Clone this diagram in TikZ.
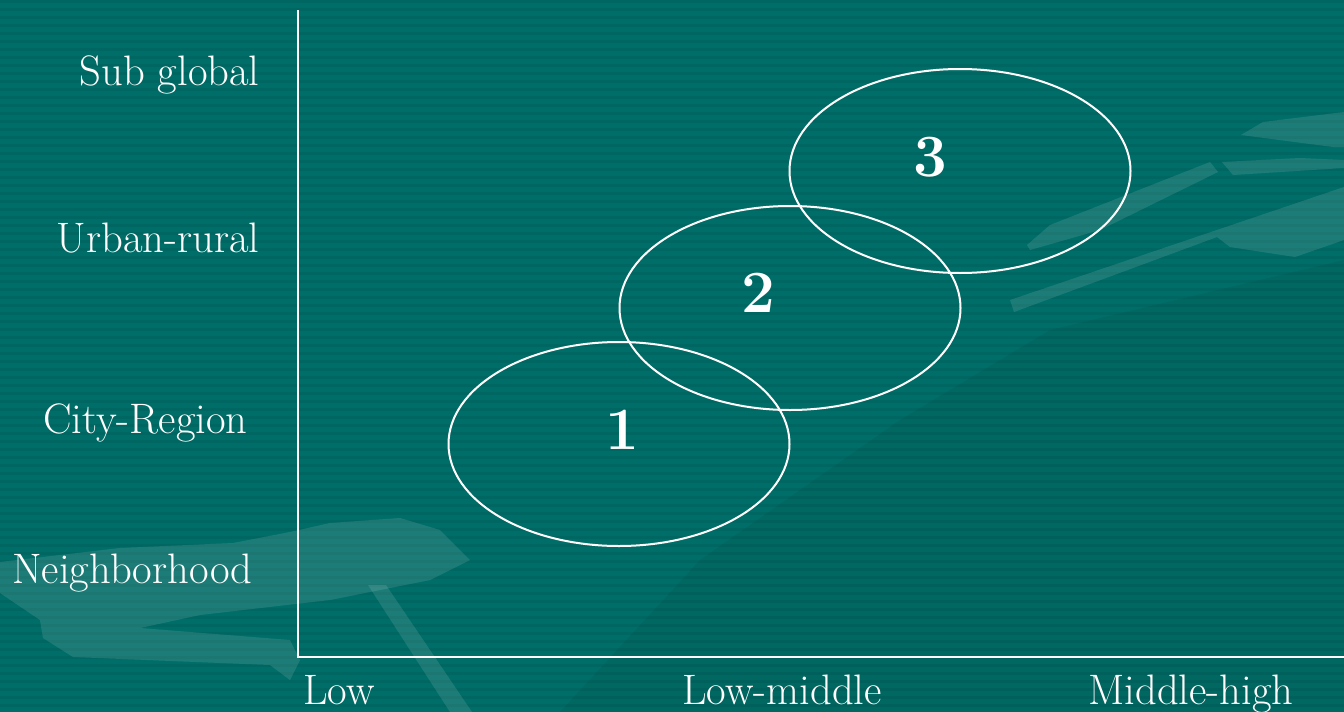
\documentclass[tikz,border=0pt]{standalone}
\usetikzlibrary{shapes.geometric}
\definecolor{bgteal}{RGB}{0,110,104}
\definecolor{stripe}{RGB}{0,102,97}
\tikzset{
  axislabel/.style={text=white,font=\fontsize{21.3}{25}\selectfont,inner sep=0pt},
  zone/.style={ellipse,draw=white,line width=1pt,minimum width=170.5pt,minimum height=102pt,inner sep=0pt},
  zonenum/.style={text=white,font=\fontsize{30}{36}\selectfont\bfseries,inner sep=0pt},
  axisline/.style={draw=white,line width=1pt},
  decor/.style={fill=white,fill opacity=0.11,draw=none},
  shade/.style={fill=black,fill opacity=0.06,draw=none}
}
\begin{document}
\begin{tikzpicture}[x=0.5pt,y=-0.5pt]
\useasboundingbox (0,0) rectangle (1344,712);
\fill[bgteal] (0,0) rectangle (1344,712);
\foreach \yy in {0,8,...,712} {\fill[stripe] (0,\yy) rectangle (1344,\yy+3);}
% decorative background shapes
\path[shade] (560,712) -- (700,560) -- (900,420) -- (1050,330) -- (1344,260) -- (1344,712) -- cycle;
\path[decor] (0,562) -- (120,548) -- (233,543) -- (290,532) -- (330,523) -- (400,518) -- (440,530) -- (470,560) -- (430,580) -- (380,590) -- (330,600) -- (200,615) -- (140,628) -- (290,640) -- (300,660) -- (290,680) -- (270,665) -- (73,657) -- (43,638) -- (40,620) -- (0,593) -- cycle;
\path[decor] (368,585) -- (386,585) -- (472,712) -- (450,712) -- cycle;
\path[decor] (1263,122) -- (1344,112) -- (1344,147) -- (1333,147) -- (1241,135) -- cycle;
\path[decor] (1222,162) -- (1300,158) -- (1344,160) -- (1344,168) -- (1233,175) -- cycle;
\path[decor] (1010,300) -- (1344,187) -- (1344,240) -- (1295,257) -- (1230,247) -- (1217,237) -- (1014,312) -- cycle;
\path[decor] (1027,245) -- (1050,225) -- (1210,162) -- (1218,172) -- (1100,230) -- (1030,250) -- cycle;
% axes
\coordinate (top) at (298,10);
\coordinate (origin) at (298,657);
\coordinate (right) at (1344,657);
\draw[axisline] (top) -- (origin) -- (right);
% vertical axis labels
\node[axislabel,anchor=base east] (subglobal) at (260,85) {Sub global};
\node[axislabel,anchor=base east] (urbanrural) at (260,252) {Urban-rural};
\node[axislabel,anchor=base east] (cityregion) at (248,433) {City-Region};
\node[axislabel,anchor=base west] (neighborhood) at (12,583) {Neighborhood};
% horizontal axis labels
\node[axislabel,anchor=base west] (low) at (303,704) {Low};
\node[axislabel,anchor=base west] (lowmiddle) at (682,704) {Low-middle};
\node[axislabel,anchor=base west] (middlehigh) at (1088,704) {Middle-high};
% ellipses
\node[zone] (z1) at (619,444) {};
\node[zone] (z2) at (790,308) {};
\node[zone] (z3) at (960,171) {};
\node[zonenum] (n1) at (622,430) {1};
\node[zonenum] (n2) at (758,293) {2};
\node[zonenum] (n3) at (930,157) {3};
\end{tikzpicture}
\end{document}
